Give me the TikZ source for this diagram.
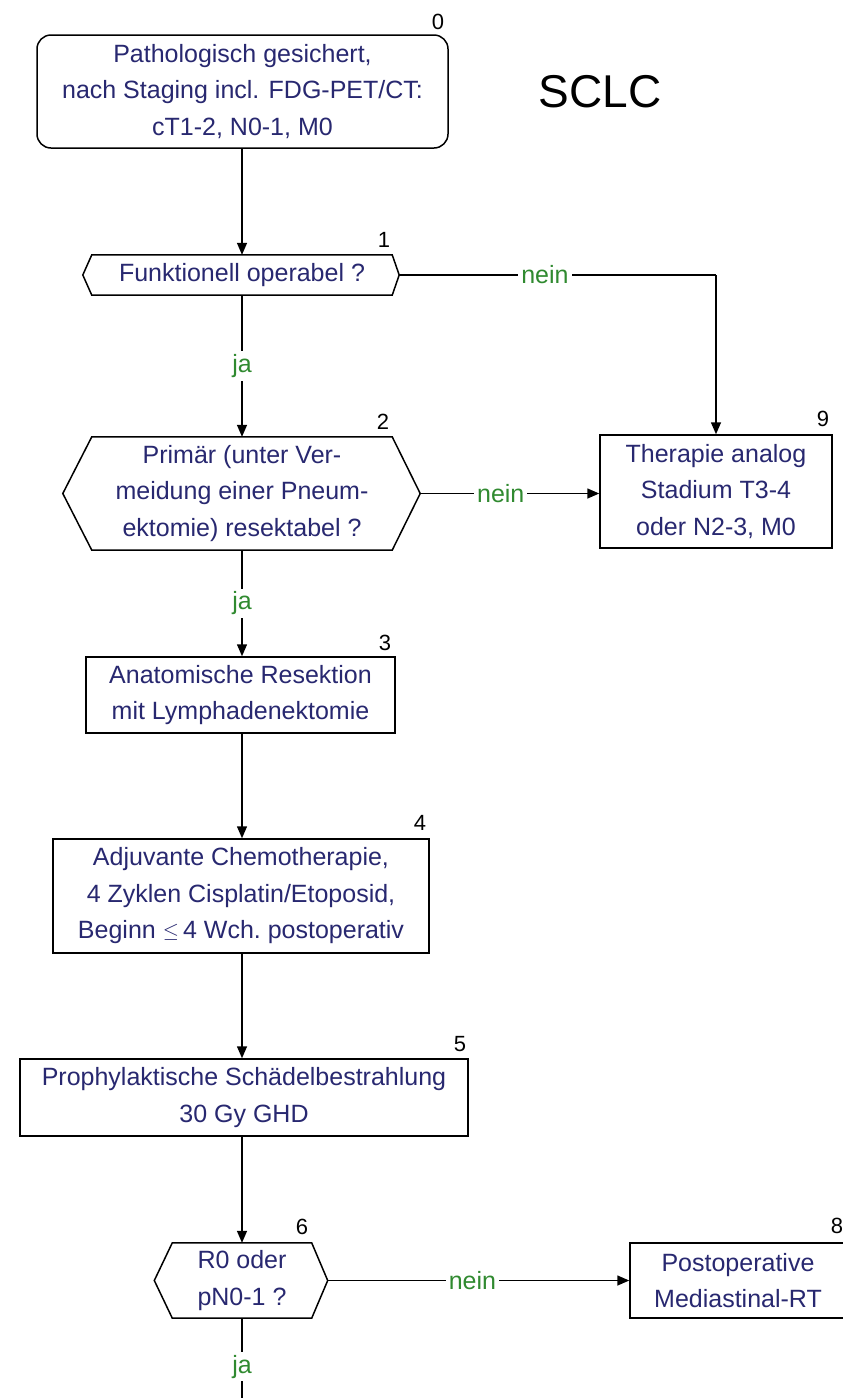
\documentclass[tikz,border=0pt]{standalone}
\usepackage{fontspec}
\setmainfont{Liberation Sans}
\usetikzlibrary{arrows.meta}
\definecolor{txtblue}{RGB}{40,40,112}
\definecolor{lblgreen}{RGB}{48,138,48}
\begin{document}
\begin{tikzpicture}[x=1pt,y=-1pt,
  every node/.style={inner sep=0pt, align=center, font=\fontsize{25}{36.5}\selectfont},
  stepbox/.style={draw, line width=1.5pt, text=txtblue},
  hexbox/.style={text=txtblue},
  hexline/.style={draw, line width=1.5pt, line join=miter},
  numlbl/.style={font=\fontsize{22}{22}\selectfont, text=black},
  conn/.style={line width=1.5pt, -{Triangle[length=12pt,width=10pt]}},
  plainline/.style={line width=1.5pt},
  yesno/.style={fill=white, text=lblgreen, inner sep=3pt},
]
\useasboundingbox (0,0) rectangle (843,1398);
\fill[white] (0,0) rectangle (843,1398);
\clip (0,0) rectangle (843,1398);

% title
\node[font=\fontsize{46}{46}\selectfont] (title) at (600,92) {SCLC};

% boxes
\node[stepbox, rounded corners=14pt, minimum width=411pt, minimum height=113pt] (n0) at (242.5,91.5)
  {Pathologisch gesichert,\\ nach Staging incl. FDG-PET/CT:\\ cT1-2, N0-1, M0};
\node[stepbox, minimum width=232pt, minimum height=113pt] (n9) at (716,491.5)
  {Therapie analog\\ Stadium T3-4\\ oder N2-3, M0};
\node[stepbox, minimum width=309pt, minimum height=76pt] (n3) at (240.5,695)
  {Anatomische Resektion\\ mit Lymphadenektomie};
\node[stepbox, minimum width=376pt, minimum height=114pt] (n4) at (241,896)
  {Adjuvante Chemotherapie,\\ 4 Zyklen Cisplatin/Etoposid,\\ Beginn {\fontsize{21}{21}\selectfont\raisebox{1pt}{$\leq$}}\,4 Wch.\ postoperativ};
\node[stepbox, minimum width=448pt, minimum height=77pt] (n5) at (244,1097.5)
  {Prophylaktische Schädelbestrahlung\\ 30 Gy GHD};
\node[stepbox, minimum width=216pt, minimum height=75pt] (n8) at (738,1280.5)
  {Postoperative\\ Mediastinal-RT};

% decisions (hexagons)
\node[hexbox, minimum width=300pt, minimum height=40pt] (h1) at (242,275) {Funktionell operabel ?};
\coordinate (h1l) at ([xshift=-9pt]h1.west);
\coordinate (h1r) at ([xshift=7pt]h1.east);
\path[hexline] (h1.north west) -- (h1.north east) -- (h1r) -- (h1.south east)
  -- (h1.south west) -- (h1l) -- cycle;

\node[hexbox, minimum width=300pt, minimum height=113pt] (h2) at (242,493.5)
  {Primär (unter Ver-\\ meidung einer Pneum-\\ ektomie) resektabel ?};
\coordinate (h2l) at ([xshift=-29pt]h2.west);
\coordinate (h2r) at ([xshift=28pt]h2.east);
\path[hexline] (h2.north west) -- (h2.north east) -- (h2r) -- (h2.south east)
  -- (h2.south west) -- (h2l) -- cycle;

\node[hexbox, minimum width=139pt, minimum height=75pt] (h6) at (242,1280.5)
  {R0 oder\\ pN0-1 ?};
\coordinate (h6l) at ([xshift=-18pt]h6.west);
\coordinate (h6r) at ([xshift=16pt]h6.east);
\path[hexline] (h6.north west) -- (h6.north east) -- (h6r) -- (h6.south east)
  -- (h6.south west) -- (h6l) -- cycle;

% step numbers
\node[numlbl] (k0) at (438,22) {0};
\node[numlbl] (k1) at (384,240) {1};
\node[numlbl] (k2) at (383,422) {2};
\node[numlbl] (k3) at (385,643) {3};
\node[numlbl] (k4) at (420,823) {4};
\node[numlbl] (k5) at (460,1044) {5};
\node[numlbl] (k6) at (302,1227) {6};
\node[numlbl] (k8) at (837,1226) {8};
\node[numlbl] (k9) at (823,419) {9};

% connectors (main column runs along the centre line of the decisions)
\draw[conn] (n0.south -| h1.north) -- (h1.north);
\draw[plainline] (h1r) -- node[yesno, pos=0.46] {nein} (h1r -| n9.north);
\draw[conn] (h1r -| n9.north) -- (n9.north);
\draw[conn] (h1.south) -- node[yesno, pos=0.5] {ja} (h2.north);
\draw[conn] (h2r) -- node[yesno, pos=0.45] {nein} (h2r -| n9.west);
\draw[conn] (h2.south) -- node[yesno, pos=0.5] {ja} (h2.south |- n3.north);
\draw[conn] (n3.south -| h2.south) -- (h2.south |- n4.north);
\draw[conn] (n4.south -| h2.south) -- (h2.south |- n5.north);
\draw[conn] (n5.south -| h2.south) -- (h6.north);
\draw[conn] (h6r) -- node[yesno, pos=0.48] {nein} (n8.west);
\coordinate (bottom) at (242,1402);
\draw[plainline] (h6.south) -- node[yesno, pos=0.58] {ja} (bottom);
\end{tikzpicture}
\end{document}
